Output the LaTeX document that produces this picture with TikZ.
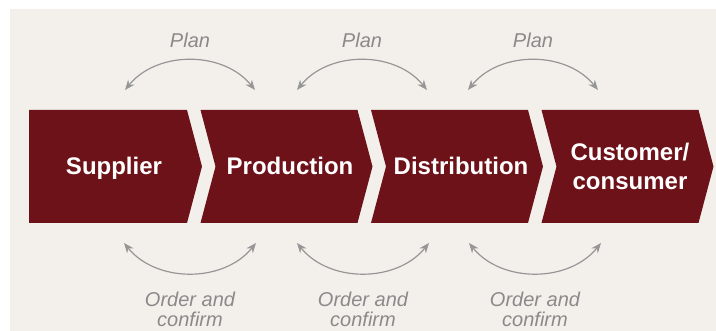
\documentclass[tikz,border=0pt]{standalone}
\usepackage{fontspec}
\setmainfont{Liberation Sans}
\usetikzlibrary{arrows.meta}
\definecolor{chainred}{RGB}{110,18,26}
\definecolor{paper}{RGB}{243,240,236}
\definecolor{arcgray}{RGB}{150,150,150}
\definecolor{labelgray}{RGB}{138,138,138}

\begin{document}
\begin{tikzpicture}[x=1pt,y=1pt,>={Stealth[length=10pt,width=8pt]},
		stage/.style={font=\fontsize{24}{29}\selectfont\bfseries,text=white,align=center,anchor=base},
		note/.style={font=\fontsize{20}{20}\selectfont\itshape,text=labelgray,align=center},
		flow/.style={<->,draw=arcgray,line width=1.2pt}]
		\useasboundingbox (0,0) rectangle (716,331);
		\fill[white] (0,0) rectangle (716,331);
		\fill[paper] (10,0) rectangle (716,322);
		% chevrons
		\fill[chainred] (29,221) -- (187,221) -- (202,164.5) -- (187,108) -- (29,108) -- cycle;
		\foreach \i in {1,2,3} {
			\pgfmathsetmacro{\xl}{187+170.5*(\i-1)+13.5}
			\pgfmathsetmacro{\xr}{187+170.5*\i}
			\fill[chainred] (\xl,221) -- (\xr,221) -- (\xr+15,164.5) -- (\xr,108)
				-- (\xl,108) -- (\xl+15,164.5) -- cycle;
		}
		% stages
		\node[stage] (sup) at (114,156) {Supplier};
		\node[stage] (prod) at (290,156) {Production};
		\node[stage] (dist) at (461,156) {Distribution};
		\node[stage,anchor=center] (cust) at (630,164.5) {Customer/\\consumer};
		
		% plan
		\foreach \c/\n in {190/1,362/2,533/3} {
			\coordinate (pl\n) at (\c-65,241);
			\coordinate (pr\n) at (\c+65,241);
			\node[note] (plan\n) at (\c,291) {Plan};
			\draw[flow] (pl\n) to[bend left=51] (pr\n);
		}
		
		% order and confirm
		\foreach \c/\n in {190/1,363/2,535/3} {
			\coordinate (ol\n) at (\c-66,88);
			\coordinate (or\n) at (\c+66,88);
			\node[note] (order\n) at (\c,22) {Order and\\confirm};
			\draw[flow] (ol\n) to[bend right=51] (or\n);
		}
		
\end{tikzpicture}
\end{document}
